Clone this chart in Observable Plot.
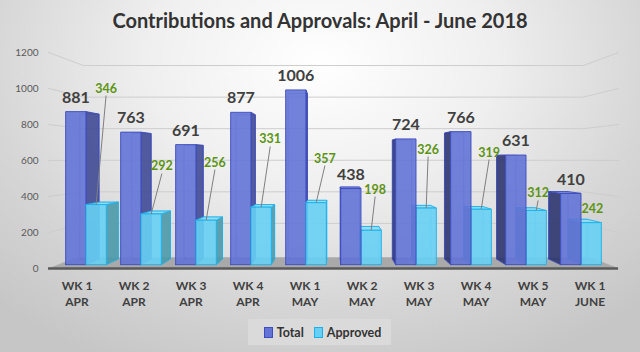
<!DOCTYPE html>
<html><head><meta charset="utf-8">
<script src="https://cdn.jsdelivr.net/npm/d3@7"></script>
<script src="https://cdn.jsdelivr.net/npm/@observablehq/plot@0.6"></script>
<style>
html,body{margin:0;padding:0;}
#wrap{position:relative;width:640px;height:352px;overflow:hidden;font-family:Lato,"Open Sans",sans-serif;
  background: radial-gradient(ellipse 72% 95% at 50% 18%, #ffffff 0%, #efefef 38%, #d6d6d6 72%, #c6c6c6 100%);}
#title{position:absolute;left:0;top:8px;width:640px;text-align:center;font-weight:700;font-size:20px;color:#333;}
#chart{position:absolute;left:0;top:45px;}
#legend{position:absolute;left:248px;top:319px;width:143px;height:26px;background:#dadada;display:flex;align-items:center;justify-content:center;gap:4px;font-weight:700;font-size:12.5px;color:#333;}
#legend .sw{display:inline-block;width:7px;height:9px;margin-left:6px;}
</style></head>
<body><div id="wrap"><div id="title">Contributions and Approvals: April - June 2018</div><div id="chart"></div><div id="legend"></div></div>
<script>
const categories = ["WK 1\nAPR","WK 2\nAPR","WK 3\nAPR","WK 4\nAPR","WK 1\nMAY","WK 2\nMAY","WK 3\nMAY","WK 4\nMAY","WK 5\nMAY","WK 1\nJUNE"];
const totals   = [881, 763, 691, 877, 1006, 438, 724, 766, 631, 410];
const approved = [346, 292, 256, 331, 357, 198, 326, 319, 312, 242];
const yTicks = [0, 200, 400, 600, 800, 1000, 1200];
const seriesNames = ["Total", "Approved"];
// placement of the "Approved" data labels
const approvedLabelDx = [0.51, 0.49, 0.42, 0.39, 0.35, 0.23, 0.16, 0.23, 0.09, 0.04];
const approvedLabelY  = [961, 528, 550, 678, 572, 400, 622, 605, 378, 294];

// 3D perspective settings (data space)
const VX = 4.5, VY = 611, T_FRONT = 0.035, T_BACK = 0.086, T_WALL = 0.123, T_FLOOR = 0.1, HALF = 0.37;
const P = (x, y, t) => ({x: x + t * (VX - x), y: y + t * (VY - y)});

const pal = {
  Total:    {front:"#6373d6", stroke:"#3d4dbd", sideR:"#3f4a93", sideL:"#2d356e", top:"#7d8ae0"},
  Approved: {front:"#67cff3", stroke:"#1cb1ea", sideR:"#4c99a8", sideL:"#3f8ea3", top:"#8adbf6"}
};

const bars = [];
categories.forEach((c, i) => {
  bars.push({s:"Total", x0:i-HALF, x1:i, v:totals[i]});
  bars.push({s:"Approved", x0:i, x1:i+HALF, v:approved[i]});
});
bars.sort((a, b) => Math.abs((b.x0+b.x1)/2 - VX) - Math.abs((a.x0+a.x1)/2 - VX));

const polyRows = [], backRows = [];
let pid = 0;
function addPoly(rows, pts, fill, stroke) {
  const id = pid++;
  [...pts, pts[0]].forEach(p => rows.push({id, x:p.x, y:p.y, fill, stroke}));
}
for (const b of bars) {
  const c = pal[b.s];
  const tf = T_FRONT, tb = T_BACK;
  addPoly(backRows, [P(b.x0,0,tb),P(b.x1,0,tb),P(b.x1,b.v,tb),P(b.x0,b.v,tb)], "none", c.stroke);
  if (b.x1 < VX) addPoly(polyRows, [P(b.x1,0,tf),P(b.x1,0,tb),P(b.x1,b.v,tb),P(b.x1,b.v,tf)], c.sideR, c.stroke);
  if (b.x0 > VX) addPoly(polyRows, [P(b.x0,0,tf),P(b.x0,0,tb),P(b.x0,b.v,tb),P(b.x0,b.v,tf)], c.sideL, c.stroke);
  if (b.v < VY) addPoly(polyRows, [P(b.x0,b.v,tf),P(b.x1,b.v,tf),P(b.x1,b.v,tb),P(b.x0,b.v,tb)], c.top, c.stroke);
  addPoly(polyRows, [P(b.x0,0,tf),P(b.x1,0,tf),P(b.x1,b.v,tf),P(b.x0,b.v,tf)], c.front, c.stroke);
}

const gridRows = [];
yTicks.filter(v => v > 0).forEach(v => {
  [P(-0.5,v,0), P(-0.5,v,T_WALL), P(9.5,v,T_WALL), P(9.5,v,0)].forEach(p => gridRows.push({v, x:p.x, y:p.y}));
});
const floorRows = [];
addPoly(floorRows, [P(-0.5,0,0), P(9.5,0,0), P(9.5,0,T_FLOOR), P(-0.5,0,T_FLOOR)], "#a9a9a9", "#a9a9a9");

const idx = d3.range(categories.length);
const frontTop = (i, v, off) => P(i + off, v, T_FRONT);

const chart = Plot.plot({
  width: 640, height: 265,
  marginLeft: 48, marginRight: 22, marginTop: 7, marginBottom: 42,
  x: {domain: [-0.5, 9.5], axis: null},
  y: {domain: [0, 1200], axis: null},
  color: {type: "identity"},
  style: {fontFamily: "Lato, 'Open Sans', sans-serif", background: "transparent", overflow: "visible"},
  marks: [
    Plot.line(gridRows, {x:"x", y:"y", z:"v", stroke:"#cdcdcd", strokeWidth:1}),
    Plot.line(floorRows, {x:"x", y:"y", z:"id", fill:"fill", stroke:"stroke", strokeWidth:0.5}),
    Plot.ruleY([0], {x1:-0.5, x2:9.5, stroke:"#5a5a5a", strokeWidth:2.5}),
    Plot.line(backRows, {x:"x", y:"y", z:"id", stroke:"stroke", strokeOpacity:0.6, strokeWidth:0.8}),
    Plot.line(polyRows, {x:"x", y:"y", z:"id", fill:"fill", stroke:"stroke", strokeWidth:0.9, fillOpacity:0.9}),
    Plot.text(yTicks, {x:-0.5, y:d=>d, text:d=>String(d), dx:-10, textAnchor:"end", fontSize:10, fill:"#595959"}),
    Plot.text(idx, {x:i=>i, y:0, text:i=>categories[i].split("\n")[0], dy:18, fontSize:12, fontWeight:"bold", fill:"#404040"}),
    Plot.text(idx, {x:i=>i, y:0, text:i=>categories[i].split("\n")[1], dy:34, fontSize:12, fontWeight:"bold", fill:"#404040"}),
    Plot.text(idx, {x:i=>frontTop(i, totals[i], -HALF/2).x, y:i=>frontTop(i, totals[i], -HALF/2).y, text:i=>String(totals[i]), dy:-14, fontSize:16, fontWeight:"bold", fill:"#404040"}),
    Plot.link(idx.filter(i => approvedLabelY[i] - frontTop(i, approved[i], HALF/2).y > 55), {
      x1:i=>i+approvedLabelDx[i], y1:i=>approvedLabelY[i],
      x2:i=>frontTop(i, approved[i], HALF/2).x, y2:i=>frontTop(i, approved[i], HALF/2).y,
      stroke:"#7f7f7f", strokeWidth:1}),
    Plot.text(idx, {x:i=>i+approvedLabelDx[i], y:i=>approvedLabelY[i], text:i=>String(approved[i]), dy:-7, fontSize:12.5, fontWeight:"bold", fill:"#5c9412"})
  ]
});
document.getElementById("chart").appendChild(chart);

const leg = document.getElementById("legend");
seriesNames.forEach(s => {
  const sw = document.createElement("span");
  sw.className = "sw";
  sw.style.background = pal[s].front;
  sw.style.border = "1px solid " + pal[s].stroke;
  const t = document.createElement("span");
  t.textContent = s;
  leg.appendChild(sw); leg.appendChild(t);
});
</script></body></html>
